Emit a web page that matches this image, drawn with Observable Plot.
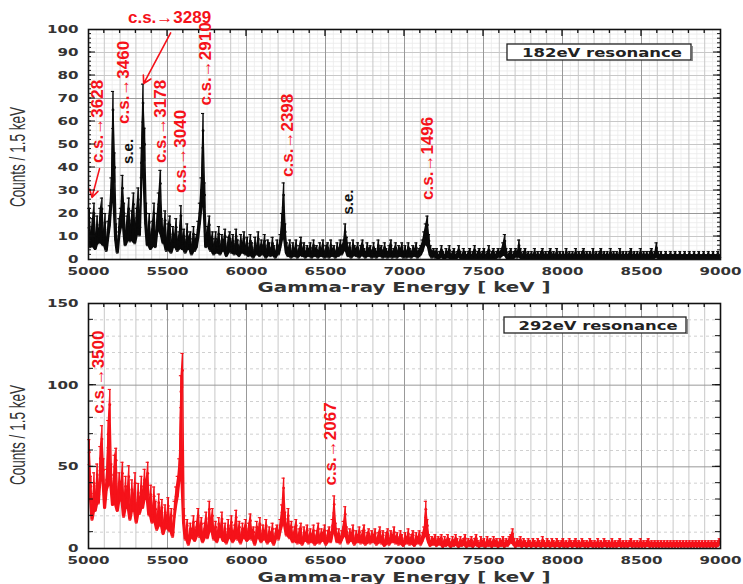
<!DOCTYPE html>
<html><head><meta charset="utf-8">
<script src="https://cdn.jsdelivr.net/npm/d3@7"></script>
<script src="https://cdn.jsdelivr.net/npm/@observablehq/plot@0.6"></script>
<style>
html,body{margin:0;padding:0;background:#fff;}
body{width:743px;height:584px;overflow:hidden;}
#c svg{display:block;}
</style></head><body><div id="c"></div>
<script>
// ---- data ----
const binStart = 5005, binStep = 10;           // bin centres in keV
const xTicks = [5000,5500,6000,6500,7000,7500,8000,8500,9000];
const yTicks182 = [0,10,20,30,40,50,60,70,80,90,100];
const yTicks292 = [0,50,100,150];
// 182 eV resonance (counts / 1.5 keV, one value per 10 keV, rows of 200 keV)
const counts182 = [
 18,8,14,20,7,15,10,18,22,9,16,6,13,19,30,65,40,12,5,14,
 18,31,20,9,15,22,11,17,24,10,18,26,14,42,68,50,20,9,16,7,
 13,20,8,16,24,33,14,10,17,6,12,15,5,11,8,14,6,9,19,7,
 10,5,12,7,9,4,11,6,8,13,20,30,56,28,8,11,15,6,9,4,
 9,5,11,4,8,6,10,3,7,9,5,8,4,10,6,3,8,5,9,4,
 7,3,8,5,2,7,4,9,3,6,4,8,2,6,5,3,7,4,2,6,
 4,8,16,28,12,5,3,6,2,5,3,6,2,4,7,3,5,2,4,3,
 5,2,6,3,4,2,5,3,6,2,4,5,2,6,3,4,2,5,3,6,
 4,6,12,7,3,5,2,6,4,3,5,2,4,6,3,2,5,3,4,2,
 5,3,2,6,3,4,2,5,3,2,4,6,2,3,5,2,4,3,5,2,
 4,2,5,3,2,4,3,5,2,3,4,6,9,12,15,8,4,2,3,2,
 3,1,2,4,2,1,3,2,4,1,2,3,1,2,4,2,1,3,2,1,
 2,3,1,2,4,1,2,3,1,2,3,1,2,4,1,2,3,1,2,3,
 2,3,5,8,3,1,2,3,1,2,3,2,6,3,1,2,3,1,2,1,
 2,1,3,1,2,1,2,3,1,2,1,2,3,1,2,1,3,1,2,1,
 2,1,3,1,2,1,2,1,3,1,2,1,2,3,1,2,1,2,1,3,
 1,2,1,2,3,1,2,1,2,1,3,1,2,1,2,1,3,1,2,1,
 2,1,2,3,1,2,1,2,1,3,1,2,1,2,1,2,3,1,2,5,
 2,1,2,1,1,2,1,1,2,1,1,2,1,1,2,1,1,2,1,1,
 2,1,1,2,1,1,2,1,1,2,1,1,2,1,1,2,1,1,2,1
];
// 292 eV resonance
const counts292 = [
 59,38,22,40,28,45,33,55,67,48,30,42,70,88,45,32,50,54,28,40,
 35,46,24,38,30,44,22,36,28,40,20,34,26,38,30,42,36,46,25,33,
 20,32,24,15,28,18,25,12,22,16,26,14,20,10,24,32,38,48,96,109,
 20,8,14,4,12,9,16,7,13,20,10,15,6,12,18,9,24,14,20,8,
 13,6,15,10,18,7,12,5,14,9,16,6,11,19,8,13,5,12,9,14,
 7,12,17,8,10,4,13,9,15,6,11,8,14,5,10,7,12,4,9,11,
 8,14,22,37,18,11,20,9,13,6,10,14,5,9,12,4,10,7,11,5,
 9,6,11,4,8,12,5,9,7,11,4,8,10,6,14,27,12,6,9,5,
 8,13,21,10,5,9,7,11,4,8,6,10,5,8,11,4,7,9,5,8,
 6,9,4,7,10,5,8,3,7,9,4,8,6,10,5,7,4,8,6,3,
 7,5,9,4,6,8,3,7,5,8,4,7,10,24,14,6,3,5,4,6,
 3,5,4,6,2,5,3,6,4,2,5,3,6,4,2,5,3,4,6,2,
 4,3,5,2,4,6,3,2,5,3,4,2,5,3,4,2,5,3,4,2,
 4,3,5,2,4,3,5,6,9,4,2,4,3,5,2,4,3,2,4,3,
 2,4,3,2,4,3,2,5,3,2,4,3,2,4,3,2,4,3,2,3,
 4,2,3,2,4,3,2,3,4,2,3,2,4,3,2,3,2,4,3,2,
 3,2,4,2,3,2,4,3,2,3,2,4,2,3,2,3,4,2,3,2,
 3,2,3,4,2,3,2,3,2,4,2,3,2,3,4,2,3,2,3,2,
 3,2,3,2,3,2,3,2,3,2,3,2,3,2,3,2,3,2,3,2,
 3,2,3,2,3,2,3,2,3,2,3,2,3,2,3,2,3,2,3,4
];
// annotations (data coordinates: energy keV, counts)
const notes182 = [
 {label:"c.s.→3628", e:5057, y:60, rot:-90},
 {label:"c.s.→3460", e:5222, y:77, rot:-90},
 {label:"c.s.→3289", e:5513, y:105, rot:0},
 {label:"c.s.→3178", e:5456, y:60, rot:-90},
 {label:"c.s.→3040", e:5583, y:47, rot:-90},
 {label:"c.s.→2910", e:5742, y:85, rot:-90},
 {label:"c.s.→2398", e:6262, y:54, rot:-90},
 {label:"c.s.→1496", e:7149, y:44, rot:-90}
];
const se182 = [
 {label:"s.e.", e:5254, y:47},
 {label:"s.e.", e:6642, y:25}
];
const arrows182 = [
 {e1:5070, y1:39.5, e2:5022, y2:27},
 {e1:5520, y1:98.5, e2:5349, y2:76.5}
];
const notes292 = [
 {label:"c.s.→3500", e:5063, y:108, rot:-90},
 {label:"c.s.→2067", e:6534, y:64, rot:-90}
];

const RED = "#f5121a";

function makePanel(o){
  const data = o.counts.map((c,i)=>{const s=Math.sqrt(c);return {e:binStart+binStep*i,c,lo:Math.max(0,c-s),hi:c+s};});
  // envelope of overlapping neighbouring error bars (fills the dense mass)
  data.forEach((d,i)=>{d.env=Math.min(d.lo,(data[i-1]||d).lo,(data[i+1]||d).lo);});
  const minorX = d3.range(5100,9000,100).filter(v=>v%500);
  const majorX = [5500,6000,6500,7000,7500,8000,8500];
  const marks = [];
  if (o.fineY) marks.push(Plot.ruleY(o.fineY,{stroke:"#ebebeb",strokeWidth:0.8}));
  if (o.fineX) marks.push(Plot.ruleX(o.fineX,{stroke:"#ebebeb",strokeWidth:0.8}));
  marks.push(
    Plot.ruleY(o.minorY,{stroke:o.minorYStroke,strokeWidth:1,strokeDasharray:o.minorDash||null}),
    Plot.ruleX(minorX,{stroke:"#c8c8c8",strokeWidth:1}),
    Plot.ruleY(o.majorY,{stroke:"#999",strokeWidth:1}),
    Plot.ruleX(majorX,{stroke:"#999",strokeWidth:1}),
    Plot.areaY(data,{x:"e",y1:"env",y2:"hi",fill:o.color}),
    Plot.ruleX(data,{x:"e",y1:"lo",y2:"hi",stroke:o.color,strokeWidth:1.4}),
    Plot.ruleY(data,{y:"hi",x1:d=>d.e-10,x2:d=>d.e+10,stroke:o.color,strokeWidth:1.1}),
    Plot.ruleY(data,{y:"lo",x1:d=>d.e-8,x2:d=>d.e+8,stroke:o.color,strokeWidth:1}),
    Plot.line(data,{x:"e",y:"c",stroke:o.color,strokeWidth:1.4}),
    Plot.dot(data,{x:"e",y:"c",r:1.4,fill:o.color,stroke:null}),
    Plot.frame({stroke:"#111",strokeWidth:1.6}),
    Plot.text(o.notes,{x:"e",y:"y",text:"label",rotate:"rot",fill:RED,fontSize:17,fontWeight:"bold",fontFamily:"Liberation Sans, Arial, sans-serif"})
  );
  if (o.se) marks.push(Plot.text(o.se,{x:"e",y:"y",text:"label",rotate:-90,fill:"#111",fontSize:15,fontWeight:"bold",fontFamily:"Liberation Sans, Arial, sans-serif"}));
  if (o.arrows) marks.push(Plot.arrow(o.arrows,{x1:"e1",y1:"y1",x2:"e2",y2:"y2",stroke:RED,strokeWidth:1.6,headLength:8}));
  const plot = Plot.plot({
    width:743, height:o.height, marginTop:o.marginTop, marginBottom:o.marginBottom, marginLeft:88, marginRight:23,
    style:{fontFamily:"DejaVu Sans, sans-serif",fontSize:"11px",color:"#2b2b2b",background:"white",overflow:"visible"},
    x:{domain:[5000,9000],ticks:xTicks,tickFormat:d=>String(d),tickSize:0,tickPadding:8,label:null},
    y:{domain:[0,o.yMax],ticks:o.yTicks,tickFormat:d=>String(d),tickSize:0,tickPadding:10,label:null},
    marks
  });
  const svg = d3.select(plot);
  const sx = plot.scale("x"), sy = plot.scale("y");
  const X = v=>sx.apply(v), Y = v=>sy.apply(v);
  // widen tick labels (extended face)
  svg.selectAll("g[aria-label*='axis'] text").each(function(){
    const t=d3.select(this), s=t.text();
    if (s) t.attr("textLength",s.length*10.5).attr("lengthAdjust","spacingAndGlyphs").attr("font-weight","bold").attr("fill","#333");
  });
  const g = svg.append("g").attr("stroke","#111");
  const x0=X(5000), x1=X(9000), y0=Y(0), y1=Y(o.yMax);
  o.sideTicks.forEach(([step,len])=>{
    for(let v=step; v<o.yMax; v+=step){
      const y=Y(v);
      g.append("line").attr("x1",x0).attr("x2",x0+len).attr("y1",y).attr("y2",y);
      g.append("line").attr("x1",x1).attr("x2",x1-len).attr("y1",y).attr("y2",y);
    }
  });
  for(let v=5100; v<9000; v+=100){
    const len = v%500? 4:7, x=X(v);
    g.append("line").attr("x1",x).attr("x2",x).attr("y1",y1).attr("y2",y1+len).attr("stroke-width",1.3);
  }
  // axis title
  svg.append("text").attr("x",(x0+x1)/2).attr("y",y0+o.titleDy).attr("text-anchor","middle")
    .attr("font-family","DejaVu Sans, sans-serif").attr("font-size",14).attr("font-weight","bold").attr("fill","#333")
    .attr("textLength",293).attr("lengthAdjust","spacingAndGlyphs").text("Gamma-ray Energy [ keV ]");
  // y title
  svg.append("text").attr("transform",`translate(${o.yTitleX},${o.yTitleY}) rotate(-90)`).attr("text-anchor","middle")
    .attr("font-family","Liberation Sans Narrow, Liberation Sans, sans-serif").attr("font-size",22).attr("fill","#333")
    .attr("textLength",100).attr("lengthAdjust","spacingAndGlyphs").text("Counts / 1.5 keV");
  // legend box
  const L=o.legend;
  svg.append("rect").attr("x",L.x).attr("y",L.y).attr("width",L.w).attr("height",L.h)
    .attr("fill","white").attr("stroke","#222").attr("stroke-width",1.3);
  svg.append("line").attr("x1",L.x+L.w+1).attr("x2",L.x+L.w+1).attr("y1",L.y+2).attr("y2",L.y+L.h+1).attr("stroke","#666").attr("stroke-width",1.5);
  svg.append("text").attr("x",L.x+L.w/2+3).attr("y",L.y+L.h/2+4.5).attr("text-anchor","middle")
    .attr("font-family","DejaVu Sans, sans-serif").attr("font-size",12).attr("font-weight","bold").attr("fill","#222")
    .attr("textLength",L.tw).attr("lengthAdjust","spacingAndGlyphs").text(L.text);
  return plot;
}

const panelTop = makePanel({
  counts:counts182, color:"#0a0a0a", yMax:100, yTicks:yTicks182,
  fineY:d3.range(2,100,2).filter(v=>v%10), fineX:d3.range(5050,9000,100),
  minorY:[10,30,40,50,60,80,90], minorYStroke:"#c8c8c8", majorY:[20,70],
  height:297, marginTop:29, marginBottom:38,
  notes:notes182, se:se182, arrows:arrows182,
  sideTicks:[[2,3],[10,7]], titleDy:33, yTitleX:25, yTitleY:157,
  legend:{x:507,y:44,w:184,h:16,text:"182eV resonance",tw:160}
});
const panelBottom = makePanel({
  counts:counts292, color:RED, yMax:150, yTicks:yTicks292,
  minorY:d3.range(10,150,10).filter(v=>v%50), minorYStroke:"#d0d0d0", minorDash:"3,3", majorY:[50,100],
  height:287, marginTop:6, marginBottom:36,
  notes:notes292, se:null, arrows:null,
  sideTicks:[[10,5],[50,8]], titleDy:34, yTitleX:25, yTitleY:138,
  legend:{x:504,y:20,w:182,h:16,text:"292eV resonance",tw:159}
});
document.getElementById("c").append(panelTop, panelBottom);
</script></body></html>
